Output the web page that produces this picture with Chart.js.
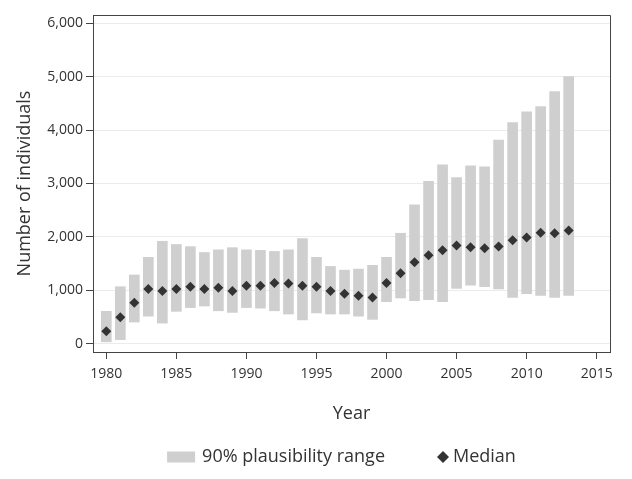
<!DOCTYPE html>
<html>
<head>
<meta charset="utf-8">
<script src="https://cdn.jsdelivr.net/npm/chart.js@4.4.1/dist/chart.umd.min.js"></script>
<style>
  html, body { margin: 0; padding: 0; background: #fff; }
</style>
</head>
<body>
<canvas id="chart" width="632" height="479"></canvas>
<script>
// Valores
const years = [1980, 1981, 1982, 1983, 1984, 1985, 1986, 1987, 1988, 1989,
  1990, 1991, 1992, 1993, 1994, 1995, 1996, 1997, 1998, 1999,
  2000, 2001, 2002, 2003, 2004, 2005, 2006, 2007, 2008, 2009,
  2010, 2011, 2012, 2013];
const rangeLow = [40, 80, 410, 520, 390, 610, 680, 710, 620, 590,
  680, 670, 620, 560, 450, 580, 560, 560, 520, 460,
  790, 860, 810, 830, 790, 1040, 1100, 1070, 1030, 870,
  940, 910, 870, 910];
const rangeHigh = [610, 1070, 1290, 1620, 1920, 1860, 1820, 1710, 1760, 1800,
  1760, 1750, 1730, 1760, 1970, 1620, 1450, 1380, 1400, 1470,
  1620, 2070, 2600, 3040, 3350, 3110, 3330, 3310, 3810, 4140,
  4340, 4440, 4720, 5000];
const median = [240, 500, 770, 1030, 990, 1030, 1070, 1030, 1050, 990,
  1090, 1090, 1140, 1130, 1090, 1070, 990, 940, 900, 870,
  1140, 1320, 1530, 1660, 1750, 1840, 1810, 1790, 1820, 1940,
  1990, 2080, 2070, 2120];
const xTicks = [1980, 1985, 1990, 1995, 2000, 2005, 2010, 2015];
const yTicks = [0, 1000, 2000, 3000, 4000, 5000, 6000];

const textColor = '#333';
const axisColor = '#444';
const barColor = '#cfcfcf';
const pointColor = '#333';

Chart.defaults.font.family = "'Open Sans', sans-serif";
Chart.defaults.color = textColor;

// Moldura completa (topo e direita) em volta da área do gráfico
const frame = {
  id: 'frame',
  afterDraw(chart) {
    const { ctx, chartArea: a } = chart;
    ctx.save();
    ctx.strokeStyle = axisColor;
    ctx.lineWidth = 1;
    ctx.beginPath();
    ctx.moveTo(Math.round(a.left) + 0.5, Math.round(a.top) + 0.5);
    ctx.lineTo(Math.round(a.right) + 0.5, Math.round(a.top) + 0.5);
    ctx.lineTo(Math.round(a.right) + 0.5, Math.round(a.bottom) + 0.5);
    ctx.stroke();
    ctx.restore();
  }
};

// Legenda desenhada à mão (caixa larga + losango)
const bottomLegend = {
  id: 'bottomLegend',
  afterDraw(chart) {
    const { ctx, chartArea: a } = chart;
    const ds = chart.data.datasets;
    ctx.save();
    ctx.font = "18px 'Open Sans', sans-serif";
    ctx.textBaseline = 'middle';
    ctx.fillStyle = textColor;
    const w1 = ctx.measureText(ds[0].label).width;
    const w2 = ctx.measureText(ds[1].label).width;
    const total = 28 + 7 + w1 + 52 + 12 + 4 + w2;
    let x = (a.left + a.right) / 2 - total / 2 - 10;
    const y = 457;
    ctx.fillStyle = ds[0].backgroundColor;
    ctx.fillRect(x, y - 5.5, 28, 11);
    x += 35;
    ctx.fillStyle = textColor;
    ctx.fillText(ds[0].label, x, y);
    x += w1 + 52 + 6;
    ctx.fillStyle = ds[1].backgroundColor;
    ctx.beginPath();
    ctx.moveTo(x - 6, y); ctx.lineTo(x, y - 6); ctx.lineTo(x + 6, y); ctx.lineTo(x, y + 6);
    ctx.closePath();
    ctx.fill();
    x += 10;
    ctx.fillStyle = textColor;
    ctx.fillText(ds[1].label, x, y);
    ctx.restore();
  }
};

new Chart(document.getElementById('chart'), {
  type: 'bar',
  data: {
    datasets: [
      {
        label: '90% plausibility range',
        data: years.map((yr, i) => ({ x: yr, y: [rangeLow[i], rangeHigh[i]] })),
        backgroundColor: barColor,
        borderWidth: 0,
        barThickness: 10,
        order: 2
      },
      {
        type: 'scatter',
        label: 'Median',
        data: years.map((yr, i) => ({ x: yr, y: median[i] })),
        backgroundColor: pointColor,
        borderWidth: 0,
        pointStyle: 'rectRot',
        pointRadius: 5,
        order: 1
      }
    ]
  },
  options: {
    responsive: false,
    animation: false,
    layout: { padding: { left: 0, right: 22, top: 15, bottom: 35 } },
    plugins: { legend: { display: false }, tooltip: { enabled: false } },
    scales: {
      x: {
        type: 'linear',
        min: 1979.05,
        max: 2015.95,
        offset: false,
        afterBuildTicks: s => { s.ticks = xTicks.map(v => ({ value: v })); },
        afterFit: s => { s.height = 92; },
        grid: { offset: false, drawOnChartArea: false, tickLength: 7, tickColor: axisColor },
        border: { color: axisColor, width: 1 },
        ticks: { font: { size: 14 }, padding: 7, maxRotation: 0, callback: v => String(v) },
        title: { display: true, text: 'Year', font: { size: 18 }, padding: { top: 0, bottom: 19 } }
      },
      y: {
        min: -150,
        max: 6150,
        afterBuildTicks: s => { s.ticks = yTicks.map(v => ({ value: v })); },
        afterFit: s => { s.width = 93; },
        grid: { color: '#ebebeb', tickLength: 7, tickColor: axisColor },
        border: { color: axisColor, width: 1 },
        ticks: { font: { size: 14 }, padding: 3, callback: v => v.toLocaleString('en-US') },
        title: { display: true, text: 'Number of individuals', font: { size: 18 }, padding: { top: 14, bottom: 0 } }
      }
    }
  },
  plugins: [frame, bottomLegend]
});
</script>
</body>
</html>
